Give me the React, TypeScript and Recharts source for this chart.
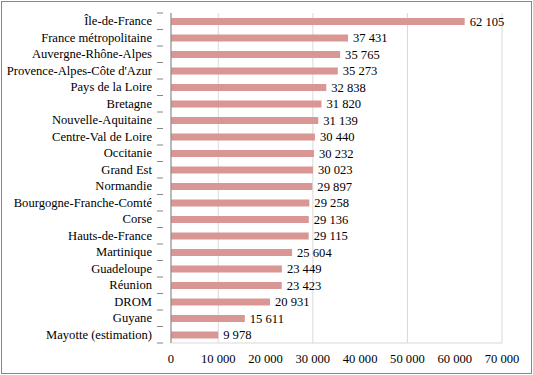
import { BarChart, Bar, XAxis, YAxis, CartesianGrid, LabelList } from "recharts";

const REGIONS = [
  "Île-de-France",
  "France métropolitaine",
  "Auvergne-Rhône-Alpes",
  "Provence-Alpes-Côte d'Azur",
  "Pays de la Loire",
  "Bretagne",
  "Nouvelle-Aquitaine",
  "Centre-Val de Loire",
  "Occitanie",
  "Grand Est",
  "Normandie",
  "Bourgogne-Franche-Comté",
  "Corse",
  "Hauts-de-France",
  "Martinique",
  "Guadeloupe",
  "Réunion",
  "DROM",
  "Guyane",
  "Mayotte (estimation)",
];

const VALUES = [
  62105, 37431, 35765, 35273, 32838, 31820, 31139, 30440, 30232, 30023,
  29897, 29258, 29136, 29115, 25604, 23449, 23423, 20931, 15611, 9978,
];

const X_TICKS = [0, 10000, 20000, 30000, 40000, 50000, 60000, 70000];

const data = REGIONS.map((region, i) => ({ region, value: VALUES[i] }));

const FONT = "'Liberation Serif', serif";

const fmt = (v: number) => String(v).replace(/\B(?=(\d{3})+(?!\d))/g, " ");

// category label + Excel-style tick mark on the band boundary
function RegionTick({ x, y, payload, index }: any) {
  return (
    <g>
      <text x={x - 11} y={y} dy={4} textAnchor="end" fill="#000" fontSize={12.6} fontFamily={FONT}>
        {payload.value}
      </text>
      {index === 0 && <line x1={x - 6} x2={x} y1={y - 8.25} y2={y - 8.25} stroke="#868686" />}
      <line x1={x - 6} x2={x} y1={y + 8.25} y2={y + 8.25} stroke="#868686" />
    </g>
  );
}

export default function App() {
  return (
    <div
      style={{
        position: "absolute",
        left: 1,
        top: 1,
        width: 531,
        height: 373,
        border: "1px solid #868686",
        boxSizing: "border-box",
        background: "#fff",
      }}
    >
      <BarChart
        layout="vertical"
        width={529}
        height={371}
        data={data}
        margin={{ top: 11, right: 29, bottom: 10, left: 0 }}
        barCategoryGap="28%"
      >
        <CartesianGrid horizontal={false} stroke="#d9d9d9" />
        <XAxis
          type="number"
          domain={[0, 70000]}
          ticks={X_TICKS}
          tickFormatter={fmt}
          tickLine={false}
          tickMargin={5}
          axisLine={{ stroke: "#d9d9d9" }}
          tick={{ fill: "#000", fontSize: 12.6, fontFamily: FONT }}
          height={20}
        />
        <YAxis
          type="category"
          dataKey="region"
          width={169}
          interval={0}
          tickLine={false}
          axisLine={{ stroke: "#868686" }}
          tick={<RegionTick />}
        />
        <Bar dataKey="value" fill="#d99694" barSize={7} isAnimationActive={false}>
          <LabelList
            dataKey="value"
            position="right"
            formatter={(v: any) => fmt(Number(v))}
            offset={5}
            style={{ fill: "#000", fontSize: 12.6, fontFamily: FONT }}
          />
        </Bar>
      </BarChart>
    </div>
  );
}
